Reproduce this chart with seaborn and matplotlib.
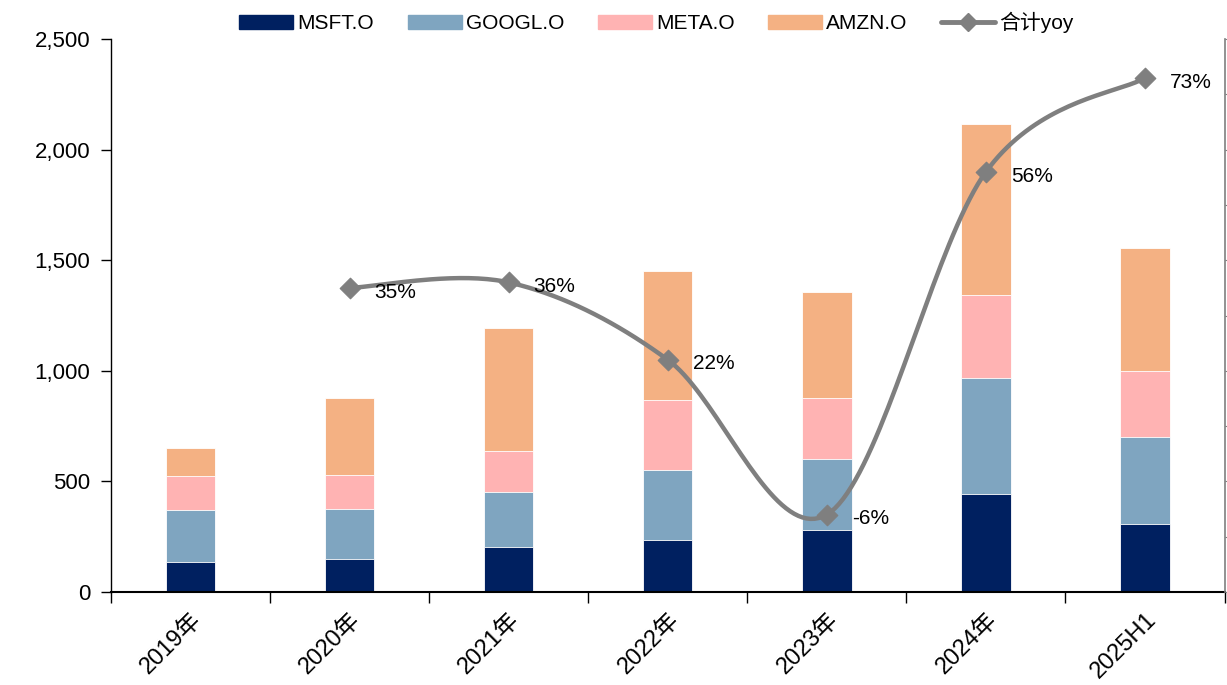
import numpy as np
import matplotlib
matplotlib.use("Agg")
import matplotlib.pyplot as plt
from matplotlib.patches import Patch
from matplotlib.lines import Line2D
from matplotlib.ticker import FuncFormatter, FixedLocator
import seaborn as sns

categories = ["2019年", "2020年", "2021年", "2022年", "2023年", "2024年", "2025H1"]
msft = [136, 149, 203, 235, 280, 443, 307]
googl = [235, 226, 249, 317, 321, 524, 394]
meta = [153, 154, 185, 316, 276, 376, 298]
amzn = [127, 348, 556, 583, 479, 773, 556]
yoy_idx = [1, 2, 3, 4, 5, 6]
yoy = [35, 36, 22, -6, 56, 73]
yoy_labels = ["35%", "36%", "22%", "-6%", "56%", "73%"]

series_names = ["MSFT.O", "GOOGL.O", "META.O", "AMZN.O"]
colors = ["#002060", "#7FA5C0", "#FFB3B3", "#F4B183"]
line_color = "#7F7F7F"

sns.set_style("white")
plt.rcParams["font.family"] = ["Liberation Sans", "Noto Sans CJK SC", "DejaVu Sans"]
plt.rcParams["text.color"] = "black"
plt.rcParams["xtick.color"] = "black"
plt.rcParams["ytick.color"] = "black"
plt.rcParams["xtick.labelcolor"] = "black"
plt.rcParams["ytick.labelcolor"] = "black"

fig = plt.figure(figsize=(12.27, 6.85), dpi=100)
ax = fig.add_axes([0.0905, 0.1358, 0.9075, 0.807])

data = [msft, googl, meta, amzn]
cum = np.cumsum(np.array(data), axis=0)
# draw from top-most cumulative down so lower segments overlay
for i in range(len(data) - 1, -1, -1):
    sns.barplot(x=categories, y=cum[i], color=colors[i], saturation=1,
                width=0.31, ax=ax, order=categories, linewidth=0.6, edgecolor="white")

ax.set_xlim(-0.5, 6.5)
ax.set_ylim(0, 2500)
ax.set_yticks([0, 500, 1000, 1500, 2000, 2500])
ax.yaxis.set_major_formatter(FuncFormatter(lambda v, p: f"{int(v):,}"))
ax.tick_params(axis="y", labelsize=16, length=7, width=1, direction="out",
               left=True, color="black", pad=8, labelcolor="black")
ax.set_xticks(range(len(categories)))
ax.set_xticklabels(categories, rotation=45, ha="right", va="top",
                   rotation_mode="anchor", fontsize=17, color="black")
ax.tick_params(axis="x", which="major", length=0, pad=12)
ax.xaxis.set_minor_locator(FixedLocator(np.arange(-0.5, 7.0, 1.0)))
ax.tick_params(axis="x", which="minor", length=8, width=1, direction="out",
               bottom=True, color="black")
ax.set_xlabel("")
ax.set_ylabel("")
for s in ["top", "right"]:
    ax.spines[s].set_visible(False)
ax.spines["left"].set_color("black")
ax.spines["bottom"].set_color("black")
ax.spines["left"].set_linewidth(1)
ax.spines["bottom"].set_linewidth(1.5)

ax2 = ax.twinx()
ax2.set_ylim(-20, 80)
ax2.set_yticks(np.arange(-20, 81, 10))
ax2.tick_params(axis="y", labelright=False, length=6, color=line_color,
                direction="out", right=True)
for s in ["top", "left", "bottom"]:
    ax2.spines[s].set_visible(False)
ax2.spines["right"].set_color(line_color)
ax2.spines["right"].set_linewidth(1.2)

# Smooth line (Bezier smoothing like spreadsheet charts) through the yoy points
px = np.array(yoy_idx, dtype=float)
py = np.array(yoy, dtype=float)
P = np.column_stack([px, py])
Pext = np.vstack([P[0], P, P[-1]])
curve = []
for k in range(len(P) - 1):
    p0, p1, p2, p3 = Pext[k], Pext[k + 1], Pext[k + 2], Pext[k + 3]
    c1 = p1 + (p2 - p0) / 6.0
    c2 = p2 - (p3 - p1) / 6.0
    t = np.linspace(0, 1, 40)[:, None]
    seg = ((1 - t) ** 3) * p1 + 3 * ((1 - t) ** 2) * t * c1 + 3 * (1 - t) * t ** 2 * c2 + t ** 3 * p2
    curve.append(seg)
curve = np.vstack(curve)
ax2.plot(curve[:, 0], curve[:, 1], color=line_color, lw=3.2, solid_capstyle="round", zorder=3)
sns.scatterplot(x=px, y=py, marker="D", s=110, color=line_color, edgecolor=line_color,
                ax=ax2, zorder=4, legend=False)
for xi, yi, lab in zip(px, py, yoy_labels):
    ax2.annotate(lab, (xi, yi), xytext=(18, -3), textcoords="offset points",
                 ha="left", va="center", fontsize=15, color="black")

handles = [Patch(facecolor=c, edgecolor=c) for c in colors]
handles.append(Line2D([0], [0], color=line_color, lw=3.5, marker="D", markersize=9))
labels = series_names + ["合计yoy"]
fig.legend(handles, labels, loc="center", bbox_to_anchor=(0.535, 0.967), ncol=5,
           frameon=False, fontsize=15, handlelength=2.6, handleheight=0.6,
           columnspacing=1.6, handletextpad=0.2)

fig.savefig("out.png", dpi=100)
